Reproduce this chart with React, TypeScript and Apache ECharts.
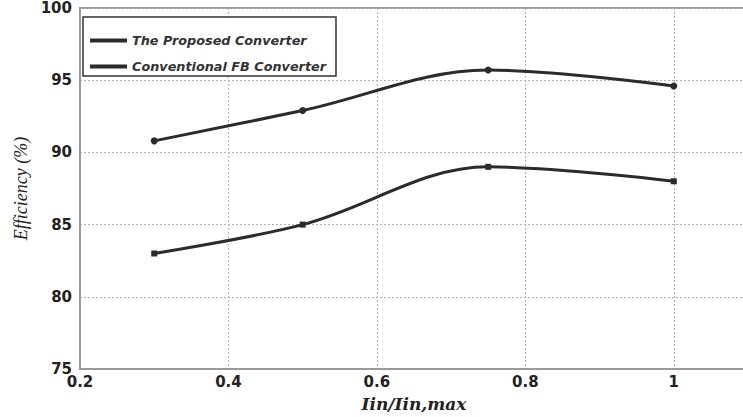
import React, { useEffect, useRef } from "react";
import * as echarts from "echarts";

const xValues = [0.3, 0.5, 0.75, 1.0];
const proposed = [90.8, 92.9, 95.7, 94.6];
const conventional = [83.0, 85.0, 89.0, 88.0];
const seriesNames = ["The Proposed Converter", "Conventional FB Converter"];
const xTickLabels = ["0.2", "0.4", "0.6", "0.8", "1"];

export default function App() {
  const ref = useRef<HTMLDivElement>(null);
  useEffect(() => {
    if (!ref.current) return;
    const chart = echarts.init(ref.current, null, { renderer: "svg" });
    const lineColor = "#2b2b2b";
    const tickFont = "DejaVu Sans, Liberation Sans, Arial, sans-serif";
    chart.setOption({
      animation: false,
      backgroundColor: "#ffffff",
      grid: {
        left: 80,
        top: 8,
        bottom: 47,
        right: 4,
        show: true,
        borderColor: "#9a9a9a",
        borderWidth: 2,
        containLabel: false,
      },
      legend: {
        orient: "vertical",
        left: 83,
        top: 17,
        padding: [17, 10, 3, 7],
        itemGap: 13,
        itemWidth: 37,
        itemHeight: 4,
        icon: "rect",
        borderColor: "#333333",
        borderWidth: 1.5,
        backgroundColor: "#ffffff",
        data: seriesNames,
        textStyle: {
          fontFamily: tickFont,
          fontStyle: "italic",
          fontWeight: "bold",
          fontSize: 12.8,
          color: "#333333",
        },
      },
      xAxis: {
        type: "value",
        min: 0.2,
        max: 1.1,
        interval: 0.2,
        name: "Iin/Iin,max",
        nameLocation: "middle",
        nameGap: 26,
        nameTextStyle: {
          fontFamily: "DejaVu Serif, Liberation Serif, serif",
          fontStyle: "italic",
          fontWeight: "bold",
          fontSize: 17,
          color: "#222222",
        },
        axisLine: { show: true, lineStyle: { color: "#9a9a9a", width: 2 } },
        axisTick: { show: false },
        axisLabel: {
          showMaxLabel: false,
          margin: 5,
          fontFamily: tickFont,
          fontWeight: "bold",
          fontSize: 15,
          color: "#222222",
          formatter: (v: number) => {
            const s = String(Math.round(v * 10) / 10);
            return xTickLabels.includes(s) ? s : "";
          },
        },
        splitLine: {
          show: true,
          lineStyle: { color: "#b0b0b0", type: [2, 2], width: 1 },
        },
      },
      yAxis: {
        type: "value",
        min: 75,
        max: 100,
        interval: 5,
        name: "Efficiency (%)",
        nameLocation: "middle",
        nameGap: 50,
        nameTextStyle: {
          fontFamily: "Liberation Serif, Times New Roman, serif",
          fontStyle: "italic",
          fontWeight: "normal",
          fontSize: 18,
          color: "#222222",
        },
        axisLine: { show: true, lineStyle: { color: "#9a9a9a", width: 2 } },
        axisTick: { show: false },
        axisLabel: {
          margin: 8,
          fontFamily: tickFont,
          fontWeight: "bold",
          fontSize: 15,
          color: "#222222",
        },
        splitLine: {
          show: true,
          lineStyle: { color: "#b0b0b0", type: [2, 2], width: 1 },
        },
      },
      series: [
        {
          name: seriesNames[0],
          type: "line",
          smooth: 0.35,
          data: xValues.map((x, i) => [x, proposed[i]]),
          symbol: "circle",
          symbolSize: 7,
          lineStyle: { color: lineColor, width: 3 },
          itemStyle: { color: lineColor },
        },
        {
          name: seriesNames[1],
          type: "line",
          smooth: 0.35,
          data: xValues.map((x, i) => [x, conventional[i]]),
          symbol: "rect",
          symbolSize: 6,
          lineStyle: { color: lineColor, width: 3 },
          itemStyle: { color: lineColor },
        },
      ],
    });
    return () => chart.dispose();
  }, []);
  return (
    <div
      ref={ref}
      style={{ position: "fixed", left: 0, top: 0, width: 752, height: 417, background: "#fff" }}
    />
  );
}
